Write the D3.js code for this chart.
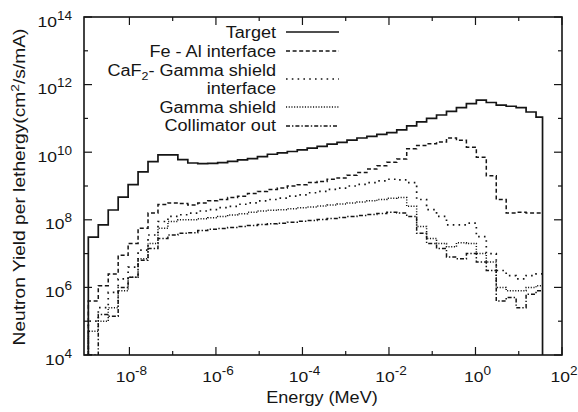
<!DOCTYPE html>
<html><head><meta charset="utf-8">
<script src="https://cdn.jsdelivr.net/npm/d3@7"></script>
<style>
body{margin:0;background:#fff}
svg{display:block}
text{font-family:"Liberation Sans",Arial,Helvetica,sans-serif;fill:#151515}
</style>
</head><body>
<svg id="c" width="578" height="412"></svg>
<script>
// log10 of bin edges (MeV)
const energyEdgeExp = [-8.95,-8.72,-8.49,-8.26,-8.03,-7.80,-7.57,-7.34,-7.11,-6.88,-6.65,-6.42,-6.19,-5.96,-5.73,-5.50,-5.27,-5.04,-4.81,-4.58,-4.35,-4.12,-3.89,-3.66,-3.43,-3.20,-2.97,-2.74,-2.51,-2.28,-2.05,-1.82,-1.59,-1.36,-1.13,-0.90,-0.67,-0.44,-0.21,0.02,0.25,0.48,0.71,0.94,1.17,1.40,1.55];
// log10 of yield per bin
const targetExp = [7.49,7.85,8.29,8.67,9.04,9.42,9.72,9.92,9.92,9.78,9.68,9.66,9.67,9.69,9.73,9.77,9.81,9.87,9.94,9.98,10.02,10.07,10.12,10.17,10.24,10.29,10.36,10.42,10.47,10.53,10.58,10.66,10.78,10.90,11.00,11.10,11.21,11.32,11.44,11.54,11.47,11.39,11.36,11.32,11.19,11.04];
const feAlExp = [5.6,6.05,6.4,6.95,7.3,7.75,8.2,8.45,8.5,8.48,8.44,8.5,8.56,8.6,8.66,8.7,8.78,8.84,8.9,8.94,9.0,9.04,9.1,9.13,9.2,9.24,9.32,9.4,9.5,9.6,9.7,9.8,10.1,10.2,10.25,10.3,10.42,10.35,10.15,9.85,9.3,8.6,8.2,8.22,8.2,8.2];
const caf2Exp = [5.0,5.4,5.85,6.25,6.6,7.1,7.55,7.95,8.1,8.15,8.2,8.26,8.3,8.36,8.4,8.46,8.5,8.56,8.6,8.64,8.7,8.74,8.8,8.84,8.9,8.94,9.0,9.05,9.1,9.15,9.2,9.18,9.1,8.6,8.3,8.1,7.85,7.85,7.9,7.5,7.0,6.5,6.35,6.25,6.35,6.4];
const gammaExp = [4.7,5.0,5.4,5.9,6.3,6.85,7.3,7.75,7.95,8.0,8.0,8.03,8.06,8.1,8.14,8.18,8.22,8.26,8.28,8.3,8.33,8.36,8.38,8.41,8.44,8.47,8.5,8.53,8.56,8.6,8.64,8.66,8.4,7.8,7.45,7.3,7.2,7.32,7.3,7.0,6.75,6.0,5.9,5.9,6.0,6.05];
const collimatorExp = [4.0,5.2,5.15,6.0,6.3,6.8,7.15,7.45,7.55,7.6,7.62,7.68,7.72,7.74,7.77,7.8,7.83,7.86,7.88,7.9,7.93,7.96,7.98,8.01,8.04,8.07,8.1,8.13,8.16,8.19,8.22,8.2,8.1,7.6,7.3,7.15,6.9,6.85,7.0,6.75,6.5,5.6,5.7,5.4,5.8,5.9];

const xTickExps = [-8,-6,-4,-2,0,2];
const xMinorExps = [-7,-5,-3,-1,1];
const yTickExps = [4,6,8,10,12,14];
const yMinorExps = [5,7,9,11,13];

const series = [
  {name:"Target", exps:targetExp, dash:null, w:1.7, dropEnd:true},
  {name:"Fe - Al interface", exps:feAlExp, dash:"4,2.6", w:1.5},
  {name:"CaF2- Gamma shield interface", exps:caf2Exp, dash:"1.6,4.2", w:1.7},
  {name:"Gamma shield", exps:gammaExp, dash:"1.1,1.6", w:1.5},
  {name:"Collimator out", exps:collimatorExp, dash:"4,2,1.4,2", w:1.5}
];

const L=84, R=562, T=17, B=355;
const svg = d3.select("#c");
const x = d3.scaleLog().domain([Math.pow(10,-9.05), 100]).range([L,R]);
const y = d3.scaleLog().domain([1e4,1e14]).range([B,T]);
const ink = "#151515";
const SX = 1.13;

svg.append("clipPath").attr("id","clip").append("rect")
  .attr("x",L).attr("y",T).attr("width",R-L).attr("height",B-T);

const line = d3.line().x(d=>x(d[0])).y(d=>y(d[1])).curve(d3.curveStepAfter);
const edges = energyEdgeExp.map(e=>Math.pow(10,e));

series.forEach(s=>{
  const pts = [[edges[0],1e4]];
  s.exps.forEach((v,i)=>pts.push([edges[i],Math.pow(10,v)]));
  const last = Math.pow(10,s.exps[s.exps.length-1]);
  pts.push([edges[edges.length-1], last]);
  if(s.dropEnd) pts.push([edges[edges.length-1], 1e4]);
  svg.append("path").attr("d",line(pts)).attr("fill","none")
    .attr("stroke",ink).attr("stroke-width",s.w)
    .attr("stroke-dasharray",s.dash).attr("clip-path","url(#clip)");
});

// frame
svg.append("rect").attr("x",L).attr("y",T).attr("width",R-L).attr("height",B-T)
  .attr("fill","none").attr("stroke",ink).attr("stroke-width",1.6);

// ticks (inside, mirrored)
const tk = svg.append("g").attr("stroke",ink).attr("stroke-width",1.2);
function xt(e,len){
  const px=x(Math.pow(10,e));
  tk.append("line").attr("x1",px).attr("x2",px).attr("y1",B).attr("y2",B-len);
  tk.append("line").attr("x1",px).attr("x2",px).attr("y1",T).attr("y2",T+len);
}
function yt(e,len){
  const py=y(Math.pow(10,e));
  tk.append("line").attr("y1",py).attr("y2",py).attr("x1",L).attr("x2",L+len);
  tk.append("line").attr("y1",py).attr("y2",py).attr("x1",R).attr("x2",R-len);
}
xTickExps.forEach(e=>xt(e,8)); xMinorExps.forEach(e=>xt(e,4));
yTickExps.forEach(e=>yt(e,8)); yMinorExps.forEach(e=>yt(e,4));

function powLabel(px,py,exp,anchor){
  const t = svg.append("text").attr("transform",`translate(${px},${py}) scale(${SX},1)`)
    .attr("text-anchor",anchor);
  t.append("tspan").attr("font-size",15.5).text("10");
  t.append("tspan").attr("font-size",12).attr("dy",-7).text(String(exp).replace("-","-"));
  return t;
}
xTickExps.forEach(e=>powLabel(x(Math.pow(10,e))+2, 382, e, "middle"));
yTickExps.forEach(e=>powLabel(72, y(Math.pow(10,e))+9.5, e, "end"));

// axis titles
svg.append("text").attr("transform",`translate(322,403) scale(${SX},1)`)
  .attr("text-anchor","middle").attr("font-size",16).text("Energy (MeV)");
const yt2 = svg.append("text").attr("transform",`translate(25,187) rotate(-90) scale(1.2,1)`)
  .attr("text-anchor","middle").attr("font-size",16);
yt2.append("tspan").text("Neutron Yield per lethergy(cm");
yt2.append("tspan").attr("font-size",11.5).attr("dy",-6).text("2");
yt2.append("tspan").attr("dy",6).text("/s/mA)");

// legend
const legRows = [
  {lines:["Target"], ty:[37.5], ly:32},
  {lines:["Fe - Al interface"], ty:[56.5], ly:51},
  {lines:["CaF2- Gamma shield","interface"], ty:[75.5,93.5], ly:79},
  {lines:["Gamma shield"], ty:[112.5], ly:107},
  {lines:["Collimator out"], ty:[130.5], ly:126}
];
legRows.forEach((r,i)=>{
  r.lines.forEach((txt,j)=>{
    const t = svg.append("text").attr("transform",`translate(276,${r.ty[j]}) scale(${SX},1)`)
      .attr("text-anchor","end").attr("font-size",16);
    if(txt.startsWith("CaF2")){
      t.append("tspan").text("CaF");
      t.append("tspan").attr("font-size",11).attr("dy",4).text("2");
      t.append("tspan").attr("dy",-4).text("- Gamma shield");
    } else t.text(txt);
  });
  const s = series[i];
  svg.append("line").attr("x1",286).attr("x2",339).attr("y1",r.ly).attr("y2",r.ly)
    .attr("stroke",ink).attr("stroke-width",s.w).attr("stroke-dasharray",s.dash);
});
</script>
</body></html>
